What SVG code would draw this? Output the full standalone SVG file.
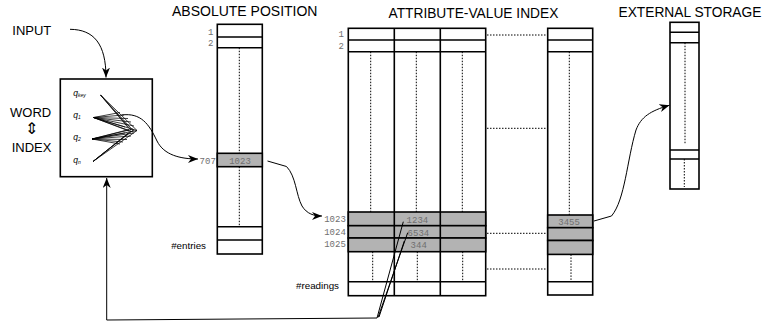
<svg xmlns="http://www.w3.org/2000/svg" width="764" height="323" viewBox="0 0 764 323">
  <style>
    .box { fill: #fff; stroke: #000; stroke-width: 1.6; }
    .sep { stroke: #000; stroke-width: 1.6; fill: none; }
    .hit { fill: #b3b3b3; stroke: #000; stroke-width: 1.6; }
    .dot { stroke: #000; stroke-width: 1; stroke-dasharray: 1.5 1.5; fill: none; }
    .num { font-family: "Liberation Mono", "DejaVu Sans Mono", monospace; font-size: 9px; fill: #707070; }
    .title { font-family: "Liberation Sans", Arial, sans-serif; font-size: 13.75px; fill: #000; }
    .lbl { font-family: "Liberation Sans", Arial, sans-serif; font-size: 13px; fill: #000; }
    .small { font-family: "Liberation Sans", Arial, sans-serif; font-size: 9.8px; fill: #000; }
    .q { font-family: "Liberation Sans", Arial, sans-serif; font-style: italic; font-size: 8.5px; fill: #000; }
    .sub { font-size: 5px; }
    .conn { fill: none; stroke: #000; stroke-width: 1; }
    .fan { stroke: #000; stroke-width: 0.75; fill: none; }
  </style>
  <defs>
    <marker id="arrow" markerUnits="userSpaceOnUse" markerWidth="11" markerHeight="9" refX="10" refY="4" orient="auto">
      <path d="M0,0 L10,4 L0,8 L3,4 Z" fill="#000"/>
    </marker>
  </defs>

  <!-- column headings -->
  <text class="title" x="172" y="16" style="font-size:14px">ABSOLUTE POSITION</text>
  <text class="title" x="388.5" y="17.5">ATTRIBUTE-VALUE INDEX</text>
  <text class="title" x="618.5" y="17">EXTERNAL STORAGE</text>

  <!-- input label -->
  <g id="input">
    <text class="lbl" x="12.3" y="35">INPUT</text>
  </g>

  <!-- word index block -->
  <g id="word-index">
    <text class="lbl" x="10" y="116.7">WORD</text>
    <text x="31.8" y="133.5" text-anchor="middle" font-family="DejaVu Sans, sans-serif" font-size="16">⇕</text>
    <text class="lbl" x="11.7" y="151.7">INDEX</text>
    <rect class="box" x="60.3" y="79" width="92" height="97.7"/>
    <text class="q" x="73.3" y="95.5">q<tspan class="sub" dy="1">key</tspan></text>
    <text class="q" x="73.3" y="118">q<tspan class="sub" dy="1">1</tspan></text>
    <text class="q" x="73.3" y="139.5">q<tspan class="sub" dy="1">2</tspan></text>
    <text class="q" x="73.3" y="163">q<tspan class="sub" dy="1">n</tspan></text>
    <!-- query terms fanned into one point -->
    <g class="fan">
      <path d="M100.5,95 L137,130.5 M100.5,95 L134,131.5 M100.5,95 L131,130 M100.5,95 L128,127.5"/>
      <path d="M93,161.5 L137,130.5 M93,161.5 L134,129.5 M93,161.5 L131,131 M93,161.5 L128,133.5"/>
      <path d="M93.5,117.5 L120,112.5 M93.5,117.5 L124,115 M93.5,117.5 L128,118.5 M93.5,117.5 L131,122 M93.5,117.5 L134,126 M93.5,117.5 L137,130.5 M93.5,117.5 L133,132 M93.5,117.5 L129,131 M93.5,117.5 L125,127"/>
      <path d="M92,139 L137,130.5 M92,139 L133,129 M92,139 L129,129.5 M92,139 L125,133 M92,139 L134,133 M92,139 L131,136 M92,139 L127,139.5 M92,139 L123,142 M92,139 L120,144"/>
    </g>
  </g>

  <!-- absolute position table -->
  <g id="absolute-position">
    <rect class="box" x="217.3" y="24.3" width="45" height="229.7"/>
    <path class="sep" d="M217.3,37 H262.3 M217.3,47.7 H262.3 M217.3,226.7 H262.3 M217.3,240 H262.3"/>
    <path class="dot" d="M239.3,47.7 V153.3 M239.3,166.7 V226.7"/>
    <rect class="hit" x="217.3" y="153.3" width="45" height="13.4"/>
    <text class="num" x="240" y="163.5" text-anchor="middle">1023</text>
    <text class="num" x="213.5" y="35" text-anchor="end">1</text>
    <text class="num" x="213.5" y="46" text-anchor="end">2</text>
    <text class="num" x="215.8" y="163.5" text-anchor="end">707</text>
    <text class="small" x="206" y="248.5" text-anchor="end">#entries</text>
  </g>

  <!-- attribute-value index: three attribute columns -->
  <g id="attribute-value-index">
    <rect class="box" x="348.3" y="28.3" width="137.4" height="267.4"/>
    <rect class="hit" x="348.3" y="212" width="137.4" height="13.7"/>
    <rect class="hit" x="348.3" y="225.7" width="137.4" height="12.3"/>
    <rect class="hit" x="348.3" y="238" width="137.4" height="13.7"/>
    <path class="sep" d="M348.3,40 H485.7 M348.3,51.7 H485.7 M348.3,281.7 H485.7 M394.3,28.3 V295.7 M440.3,28.3 V295.7"/>
    <path class="dot" d="M370.7,51.7 V212 M416.3,51.7 V212 M462.3,51.7 V212 M372.7,251.7 V281.7 M417.3,251.7 V281.7 M462.7,251.7 V281.7"/>
    <text class="num" x="343.8" y="37.3" text-anchor="end">1</text>
    <text class="num" x="343.8" y="49.3" text-anchor="end">2</text>
    <text class="num" x="345.8" y="222.3" text-anchor="end">1023</text>
    <text class="num" x="345.8" y="235.3" text-anchor="end">1024</text>
    <text class="num" x="345.8" y="247.3" text-anchor="end">1025</text>
    <text class="num" x="406.6" y="222.5">1234</text>
    <text class="num" x="407.6" y="235.8">6534</text>
    <text class="num" x="410.6" y="248">344</text>
    <text class="small" x="339" y="288.5" text-anchor="end">#readings</text>
  </g>

  <!-- attribute-value index: last column -->
  <g id="attribute-value-last">
    <rect class="box" x="547.7" y="28.3" width="45" height="266.7"/>
    <rect class="hit" x="547.7" y="215" width="45" height="12.7"/>
    <rect class="hit" x="547.7" y="227.7" width="45" height="12.8"/>
    <rect class="hit" x="547.7" y="240.5" width="45" height="13.9"/>
    <path class="sep" d="M547.7,40 H592.7 M547.7,51.7 H592.7 M547.7,281.7 H592.7"/>
    <path class="dot" d="M569.3,51.7 V215 M571,254.4 V281.7"/>
    <text class="num" x="558.3" y="225">3455</text>
  </g>

  <!-- external storage -->
  <g id="external-storage">
    <rect class="box" x="670" y="22.3" width="29" height="166.7"/>
    <path class="sep" d="M670,32.3 H699 M670,42.7 H699 M670,150 H699 M670,159 H699"/>
    <path class="dot" d="M685,42.7 V144 M684.3,159 V187"/>
  </g>

  <!-- connectors -->
  <g id="connectors">
    <path class="dot" d="M487,35 H546 M487,128.3 H546 M487,233.3 H546 M487,269 H546"/>
    <path class="conn" d="M70,29.3 C94,29.5 106,44 106,77.5" marker-end="url(#arrow)"/>
    <path class="conn" d="M121.5,115 C141,112.5 149,124 157,141 C164,155 180,159 198,159" marker-end="url(#arrow)"/>
    <path class="conn" d="M267.5,161 L286.5,166.5 C296,176 296,195 302,206 C307,214 314,216 322,216" marker-end="url(#arrow)"/>
    <path class="conn" d="M594,221 L611.5,216 C625,200 627,160 636,130 C641,117 650,111 669.5,105.2" marker-end="url(#arrow)"/>
    <path class="conn" d="M403.3,221.7 L377,318 M407.7,232.7 L378,317.5 M404.3,241 L379,317"/>
    <path class="conn" d="M377,318 L106.7,320 L106.7,178" marker-end="url(#arrow)"/>
  </g>
</svg>
